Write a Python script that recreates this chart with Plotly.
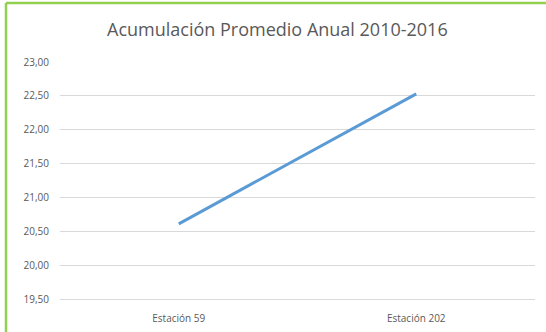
import plotly.graph_objects as go

categories = ["Estación 59", "Estación 202"]
values = [20.61, 22.53]
y_ticks = [19.5, 20.0, 20.5, 21.0, 21.5, 22.0, 22.5, 23.0]

W, H = 546, 332
L, R, T, B = 60, 11, 62, 33
pw = W - L - R
ph = H - T - B

fig = go.Figure()
fig.add_trace(go.Scatter(
    x=categories, y=values, mode="lines",
    line=dict(color="#5B9BD5", width=3),
    showlegend=False, hoverinfo="skip",
))

def px_x(p):
    return (p - L) / pw

def px_y(p):
    return (H - B - p) / ph

font = "Open Sans, Liberation Sans, sans-serif"
fig.update_layout(
    width=W, height=H,
    margin=dict(l=L, r=R, t=T, b=B),
    paper_bgcolor="white", plot_bgcolor="white",
    separators=", ",
    title=dict(
        text="Acumulación Promedio Anual 2010-2016",
        x=0.508, xref="container", xanchor="center",
        y=1 - 30 / H, yanchor="middle",
        font=dict(family=font, size=18, color="#595959"),
    ),
    xaxis=dict(
        type="category", range=[-0.5, 1.5], automargin=False,
        showgrid=False, showline=True, linecolor="#D9D9D9", linewidth=1,
        zeroline=False, ticks="",
        tickfont=dict(family=font, size=10, color="#595959"),
        ticklabelstandoff=10,
    ),
    yaxis=dict(
        range=[19.5, 23.0], tickvals=y_ticks, tickformat=".2f", automargin=False,
        showgrid=True, gridcolor="#D9D9D9", gridwidth=1,
        showline=False, zeroline=False, ticks="",
        tickfont=dict(family=font, size=10, color="#595959"),
        ticklabelstandoff=10,
    ),
    shapes=[
        dict(type="line", xref="paper", yref="paper",
             x0=px_x(6), x1=px_x(W + 20), y0=px_y(3), y1=px_y(3),
             line=dict(color="#92D050", width=2.5), layer="above"),
        dict(type="line", xref="paper", yref="paper",
             x0=px_x(6), x1=px_x(6), y0=px_y(3), y1=px_y(H + 20),
             line=dict(color="#92D050", width=2.5), layer="above"),
    ],
)

fig.write_html("out.html")
